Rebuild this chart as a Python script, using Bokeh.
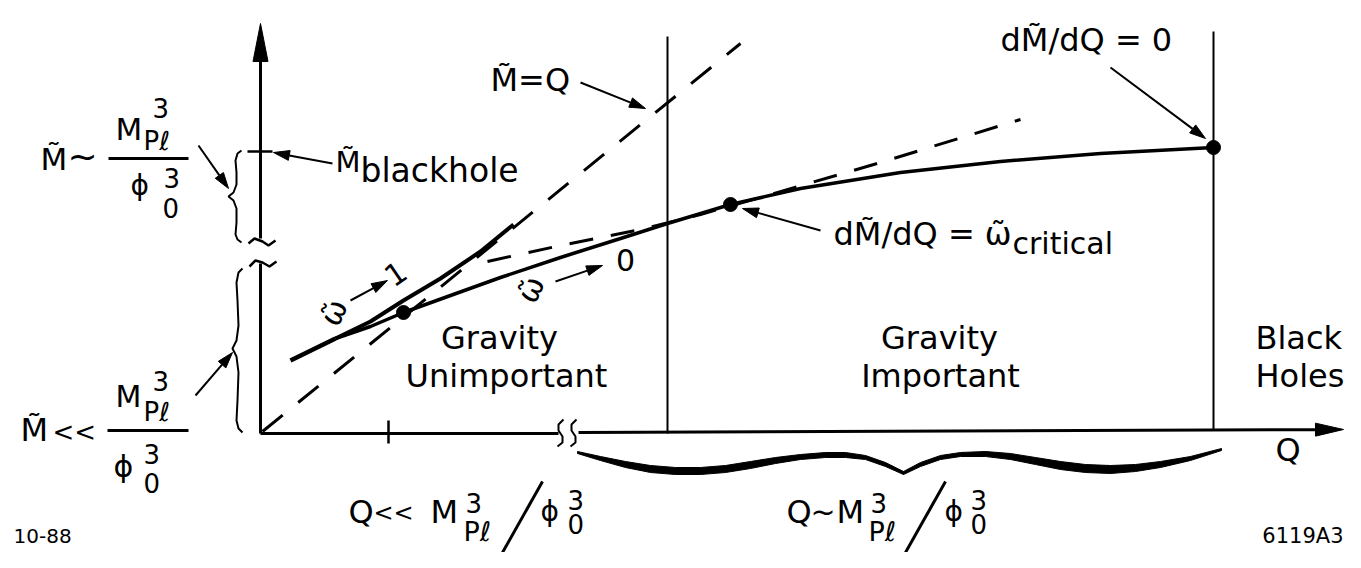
import math
from bokeh.plotting import figure
from bokeh.models import Range1d, ColumnDataSource
from bokeh.core.properties import value
from bokeh.embed import file_html
from bokeh.resources import INLINE

FONT = "DejaVu Sans"

# ---------------- data (image pixel coordinates, y downward) ----------------
origin = (260, 433)
yaxis_top = 23
ybreak = (238, 263)
xaxis_end = (1343, 429)
xbreak = (558, 578)

diag_x = [262, 740]
diag_y = [431, 43]

common_x = [290, 335]
common_y = [360, 338]
upper_x = [335, 370, 403, 440, 480, 513]
upper_y = [338, 321, 300, 278, 251, 224]
lower_x = [335, 370, 403, 450, 500, 560, 620, 667, 730, 800, 900, 1000, 1100, 1213]
lower_y = [338, 326, 312, 295, 277, 257, 238, 223, 204, 188, 172, 161, 153, 147]

tangent_x = [487, 560, 640, 700, 770, 880, 1020]
tangent_y = [261, 245, 229, 214, 194, 162, 119]

dots_x = [403, 730, 1213]
dots_y = [312, 204, 147]

vlines_x = [667, 1213]
vlines_top = [36, 31]
vlines_bottom = [433, 430]

# annotation arrows: start -> end (head at end)
ann_x0 = [580, 332, 1110, 820, 198, 195, 350, 555]
ann_y0 = [82, 163, 67, 230, 145, 395, 300, 281]
ann_x1 = [645, 273, 1205, 742, 228, 232, 387, 602]
ann_y1 = [108, 152, 138, 208, 188, 352, 280, 265]

# left braces
brace1_x = [241, 237, 235, 236, 236, 233, 228, 233, 236, 236, 235, 237, 241]
brace1_y = [150, 153, 160, 172, 184, 192, 196, 200, 208, 222, 234, 239, 242]
brace2_x = [242, 238, 236, 237, 238, 236, 232, 236, 238, 237, 236, 238, 242]
brace2_y = [268, 272, 282, 300, 325, 340, 348, 356, 372, 400, 420, 428, 432]

# bottom brace halves (top edge then bottom edge)
bl_x = [577, 600, 625, 650, 675, 700, 725, 750, 775, 800, 825, 845, 865, 885, 903,
        903, 885, 865, 845, 825, 800, 775, 750, 725, 700, 675, 650, 625, 600, 577]
bl_y = [451, 456, 461, 465, 467, 467, 465, 461, 457, 454, 452, 452, 455, 462, 471,
        474, 466, 459, 457, 457, 459, 463, 468, 472, 474, 474, 472, 467, 460, 453]
br_x = [903, 920, 940, 960, 985, 1010, 1035, 1060, 1085, 1110, 1135, 1160, 1190, 1221,
        1221, 1190, 1160, 1135, 1110, 1085, 1060, 1035, 1010, 985, 960, 940, 920, 903]
br_y = [471, 462, 455, 452, 451, 453, 457, 461, 464, 465, 464, 461, 456, 448,
        450, 460, 467, 471, 473, 472, 469, 464, 459, 456, 456, 459, 466, 474]

# fraction bars and slashes
bars_x0 = [108, 107, 502, 905]
bars_y0 = [158, 430, 552, 552]
bars_x1 = [188, 188, 542, 945]
bars_y1 = [158, 430, 481, 481]

# axis break squiggles
tilde1_x = [248, 254, 262, 268, 275]
tilde1_y = [243, 238, 241, 245, 240]
tilde2_x = [249, 255, 262, 269, 276]
tilde2_y = [266, 260, 262, 266, 261]
sq1_x = [563, 558, 558, 562, 562, 557]
sq1_y = [419, 424, 430, 436, 442, 446]
sq2_x = [576, 571, 571, 575, 575, 570]
sq2_y = [419, 424, 430, 436, 442, 446]

# ticks
ytick = (247, 272, 151)
xtick = (388, 420, 443)

# texts (left aligned; y = alphabetic baseline)
t_text = ["M\u0303", "~", "M", "3", "P\u2113", "\u03d5", "3", "0",
          "M\u0303", "<<", "M", "3", "P\u2113", "\u03d5", "3", "0",
          "M\u0303", "blackhole",
          "M\u0303=Q",
          "dM\u0303/dQ = 0",
          "dM\u0303/dQ = \u03c9\u0303", "critical",
          "Q", "<<", "M", "3", "P\u2113", "\u03d5", "3", "0",
          "Q", "~", "M", "3", "P\u2113", "\u03d5", "3", "0",
          "Q", "Black", "Holes", "10-88"]
t_x = [40, 67, 115, 152, 143, 130, 163, 162,
       20, 52, 115, 152, 143, 113, 143, 143,
       335, 360,
       490,
       1000,
       833, 1012,
       348, 373, 430, 465, 463, 540, 567, 567,
       786, 810, 836, 870, 868, 944, 970, 970,
       1275, 1255, 1255, 13]
t_y = [170, 170, 140, 117, 150, 196, 187, 217,
       442, 441, 407, 390, 421, 477, 463, 492,
       173, 183,
       92,
       52,
       246, 254,
       524, 522, 524, 512, 541, 522, 509, 533,
       524, 522, 524, 512, 541, 522, 509, 533,
       462, 350, 388, 543]
t_size = [31, 36, 31, 26, 26, 28, 26, 26,
          32, 26, 30, 26, 26, 30, 26, 26,
          29, 33,
          32,
          32,
          32, 30,
          32, 24, 32, 26, 27, 28, 26, 26,
          32, 30, 32, 26, 27, 28, 26, 26,
          32, 32, 32, 20]

c_text = ["Gravity", "Unimportant", "Gravity", "Important"]
c_x = [499, 506, 939, 940]
c_y = [350, 388, 350, 388]

r_text = ["\u03c9\u0303", "1", "\u03c9\u0303", "0"]
r_x = [333, 395, 530, 625]
r_y = [312, 273, 289, 259]
r_angle = [1.13, 0.6, 1.13, 0.0]

# renderer correction: alphabetic baseline is drawn lower than requested
BASE_SHIFT = 0.38

# ---------------- figure ----------------
p = figure(width=1345, height=552, x_range=Range1d(0, 1345), y_range=Range1d(552, 0),
           output_backend="svg", toolbar_location=None, min_border=0,
           x_axis_type=None, y_axis_type=None)
p.outline_line_color = None
p.background_fill_color = "white"
p.border_fill_color = "white"


def head(x0, y0, x1, y1, L, W):
    dx, dy = x1 - x0, y1 - y0
    n = math.hypot(dx, dy)
    ux, uy = dx / n, dy / n
    bx, by = x1 - L * ux, y1 - L * uy
    px, py = -uy, ux
    return [x1, bx + W * px, bx - W * px], [y1, by + W * py, by - W * py], (bx, by)


# axes
hx, hy, base = head(origin[0], ybreak[0], origin[0], yaxis_top, 38, 7.5)
p.patch(hx, hy, color="black")
p.line([origin[0], origin[0]], [ybreak[0], base[1]], line_width=3, color="black")
p.line([origin[0], origin[0]], [ybreak[1], origin[1]], line_width=3, color="black")
hx, hy, base = head(xbreak[1], origin[1], xaxis_end[0], xaxis_end[1], 28, 6.5)
p.patch(hx, hy, color="black")
p.line([origin[0], xbreak[0]], [origin[1], origin[1]], line_width=3, color="black")
p.line([xbreak[1], base[0]], [origin[1] - 1, base[1]], line_width=3, color="black")
p.line(tilde1_x, tilde1_y, line_width=2.5, color="black")
p.line(tilde2_x, tilde2_y, line_width=2.5, color="black")
p.line(sq1_x, sq1_y, line_width=2, color="black")
p.line(sq2_x, sq2_y, line_width=2, color="black")
p.line([ytick[0], ytick[1]], [ytick[2], ytick[2]], line_width=2.5, color="black")
p.line([xtick[0], xtick[0]], [xtick[1], xtick[2]], line_width=2.5, color="black")

# vertical region lines
p.segment(x0=vlines_x, y0=vlines_top, x1=vlines_x, y1=vlines_bottom, line_width=2, color="black")

# dashed lines
p.line(diag_x, diag_y, line_width=3, color="black", line_dash="26 20")
p.line(tangent_x, tangent_y, line_width=3, color="black", line_dash="24 18")

# curves
p.line(common_x, common_y, line_width=4.5, color="black")
p.line(upper_x, upper_y, line_width=4, color="black")
p.line(lower_x, lower_y, line_width=3.5, color="black")
p.scatter(dots_x, dots_y, size=14, color="black")

# annotation arrows
for x0, y0, x1, y1 in zip(ann_x0, ann_y0, ann_x1, ann_y1):
    hx, hy, base = head(x0, y0, x1, y1, 16, 5)
    p.line([x0, base[0]], [y0, base[1]], line_width=2, color="black")
    p.patch(hx, hy, color="black")

# braces
p.line(brace1_x, brace1_y, line_width=2, color="black")
p.line(brace2_x, brace2_y, line_width=2, color="black")
p.patch(bl_x, bl_y, color="black")
p.patch(br_x, br_y, color="black")

# bars / slashes
p.segment(x0=bars_x0, y0=bars_y0, x1=bars_x1, y1=bars_y1, line_width=3, color="black")

# texts
src = ColumnDataSource(dict(x=t_x, y=[y - BASE_SHIFT * s for y, s in zip(t_y, t_size)],
                            text=t_text, size=[f"{s}px" for s in t_size]))
p.text(x="x", y="y", text="text", source=src, text_font=value(FONT), text_font_size="size",
       text_align="left", text_baseline="alphabetic", text_color="black")
p.text(x=c_x, y=[y - BASE_SHIFT * 32 for y in c_y], text=c_text, text_font=value(FONT),
       text_font_size="32px", text_align="center", text_baseline="alphabetic", text_color="black")
p.text(x=[1343], y=[543 - BASE_SHIFT * 21], text=["6119A3"], text_font=value(FONT),
       text_font_size="21px", text_align="right", text_baseline="alphabetic", text_color="black")
p.text(x=r_x, y=r_y, text=r_text, angle=r_angle, text_font=value(FONT), text_font_size="30px",
       text_align="center", text_baseline="middle", text_color="black")

open("out.html", "w").write(file_html(p, INLINE))
